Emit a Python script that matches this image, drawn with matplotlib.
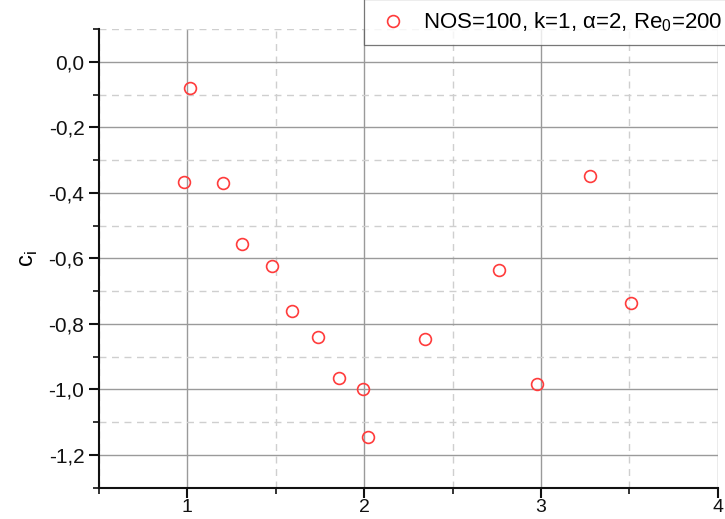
#!/usr/bin/env python3
"""Scatter of c_i vs x for NOS=100, k=1, alpha=2, Re0=200 (Origin-style)."""

import matplotlib
matplotlib.use("Agg")
import matplotlib.pyplot as plt
from matplotlib.ticker import MultipleLocator, FuncFormatter

plt.rcParams["font.family"] = ["Liberation Sans", "DejaVu Sans"]
plt.rcParams["mathtext.fontset"] = "custom"
plt.rcParams["mathtext.rm"] = "Liberation Sans"

# ── data ─────────────────────────────────────────────────────────────
x_vals = [1.017, 0.983, 1.20, 1.31, 1.48, 1.59, 1.74, 1.86, 1.994, 2.02,
          2.345, 2.76, 2.976, 3.28, 3.507]
ci_vals = [-0.080, -0.368, -0.371, -0.556, -0.622, -0.760, -0.840, -0.964,
           -0.999, -1.145, -0.846, -0.635, -0.984, -0.348, -0.737]
legend_label = "NOS=100, k=1, \u03b1=2, Re$_\\mathregular{0}$=200"

# ── plot ─────────────────────────────────────────────────────────────
fig = plt.figure(figsize=(7.25, 5.19), dpi=100)
ax = fig.add_axes([0.1366, 0.0603, 0.8534, 0.8837])

ax.plot(x_vals, ci_vals, ls="none", marker="o", ms=8.5, mfc="none",
        mec="#FF3B3B", mew=1.2, label=legend_label, zorder=5)

ax.set_xlim(0.5, 4.0)
ax.set_ylim(-1.3, 0.1)

ax.xaxis.set_major_locator(MultipleLocator(1.0))
ax.xaxis.set_minor_locator(MultipleLocator(0.5))
ax.yaxis.set_major_locator(MultipleLocator(0.2))
ax.yaxis.set_minor_locator(MultipleLocator(0.1))
ax.xaxis.set_major_formatter(FuncFormatter(lambda v, p: f"{v:g}"))
ax.yaxis.set_major_formatter(
    FuncFormatter(lambda v, p: f"{v:.1f}".replace(".", ",").replace("-0,0", "0,0")))

ax.grid(which="major", color="#9a9a9a", lw=1.0, ls="-")
ax.grid(which="minor", color="#cfcfcf", lw=1.0, ls=(0, (5, 4)))
ax.set_axisbelow(True)

for side in ("top", "right"):
    ax.spines[side].set_visible(False)
for side in ("left", "bottom"):
    ax.spines[side].set_linewidth(1.5)
    ax.spines[side].set_color("#111111")

ax.tick_params(which="major", direction="out", length=7, width=1.5,
               labelsize=15, pad=3.5, colors="#111111")
ax.tick_params(which="minor", direction="out", length=4, width=1.2,
               colors="#111111")
ax.tick_params(axis="x", which="major", pad=1, labelsize=14)

ax.set_ylabel("c$_\\mathregular{i}$", fontsize=17, labelpad=6)

leg = fig.legend(loc="lower left", bbox_to_anchor=(0.502, 0.913),
                 fontsize=16, frameon=True, fancybox=False,
                 borderpad=0.5, handletextpad=0.55, handlelength=1.6,
                 borderaxespad=0)
leg.get_frame().set_edgecolor("#555555")
leg.get_frame().set_linewidth(0.9)

fig.savefig("out.png", dpi=100, facecolor="white")
plt.close(fig)
